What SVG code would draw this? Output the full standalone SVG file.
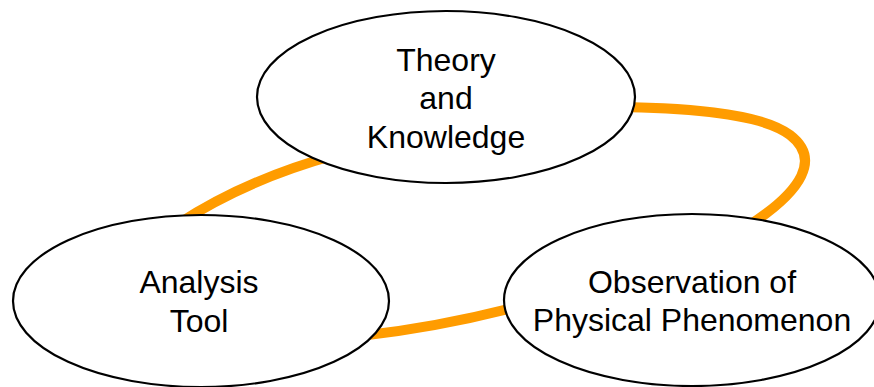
<svg xmlns="http://www.w3.org/2000/svg" width="874" height="387" viewBox="0 0 874 387">
<style>
.link{fill:none;stroke:#FF9C00;stroke-width:10;stroke-linecap:butt}
.node ellipse{fill:#fff;stroke:#000;stroke-width:2.2}
.node text{font-family:"Liberation Sans",Arial,sans-serif;font-size:32px;fill:#000;text-anchor:middle}
</style>
<rect width="874" height="387" fill="#fff"/>
<g id="connectors">
<path class="link" d="M600,107 C680,107 760,112 790,135 C820,158 805,190 745,228"/>
<path class="link" d="M178,224 Q245,180 335,155"/>
<path class="link" d="M360,336 Q440,327 520,306"/>
</g>
<g id="theory" class="node">
<ellipse cx="446" cy="97" rx="189" ry="86"/>
<text x="446" y="71">Theory</text>
<text x="446" y="109">and</text>
<text x="446" y="148">Knowledge</text>
</g>
<g id="analysis" class="node">
<ellipse cx="201" cy="301" rx="188" ry="86"/>
<text x="199" y="293">Analysis</text>
<text x="199" y="332">Tool</text>
</g>
<g id="observation" class="node">
<ellipse cx="692" cy="300" rx="188" ry="86"/>
<text x="692" y="293">Observation of</text>
<text x="692" y="331">Physical Phenomenon</text>
</g>
</svg>
